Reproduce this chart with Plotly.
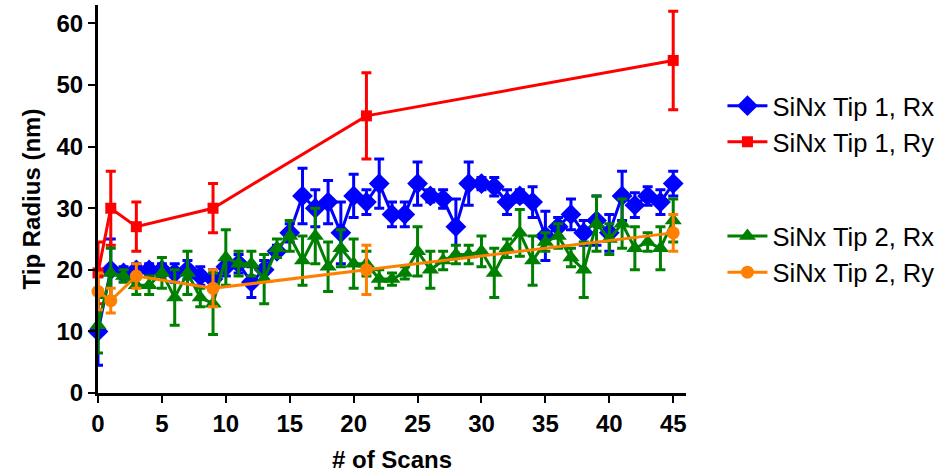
import plotly.graph_objects as go

# Tip 1 / Tip 2 radius versus number of scans
scans_all = list(range(46))

tip1_rx = [10, 20, 19.5, 20, 20, 20, 19.5, 20, 19, 18.5,
           20.5, 21, 18, 20, 23, 26, 32, 30, 31, 26,
           32, 31, 34, 29, 29, 34, 32, 31.5, 27, 34,
           34, 33.5, 31, 32, 31, 25.5, 27, 29, 26, 28,
           26, 32, 30.5, 32, 31, 34]
tip1_rx_err = [5.5, 5, 1, 1, 1, 1, 1.5, 1.5, 1.5, 1.5,
               1.5, 1.5, 2.5, 1.5, 1, 1.5, 4.5, 3, 3.5, 5,
               3.5, 2, 4, 2, 2, 3.5, 1, 1.5, 4.5, 3.5,
               1, 1.5, 2, 1, 2.5, 4, 1.5, 2.5, 2, 4,
               3, 4, 2, 1.5, 2, 2]

tip2_rx = [11, 19.5, 19, 17.5, 17.5, 19.5, 15.5, 19.5, 15.5, 14.5,
           22, 21, 21, 18.5, 23.5, 25.5, 21.5, 25.5, 20.5, 23.5,
           21, 21, 18.5, 18.5, 19.5, 23, 20, 21.5, 22.5, 22.5,
           23, 19.5, 23.5, 26, 21.5, 24.5, 25.5, 22, 20, 27.5,
           25, 27.5, 23.5, 24.5, 23.5, 28]
tip2_rx_err = [4.5, 4, 1, 1.5, 1.5, 2.5, 4.5, 3.5, 1.5, 5,
               4.5, 2, 2, 4, 1.5, 2.5, 4, 4.5, 4, 3,
               4, 2, 1.5, 1, 1, 4, 3, 1.5, 1.5, 1.5,
               2.5, 4, 1.5, 3.8, 4, 1.5, 2, 1.5, 4.5, 4.5,
               2.5, 4, 3.5, 1.5, 3.5, 3.5]

scans_ry = [0, 1, 3, 9, 21, 45]
tip1_ry = [19.5, 30, 27, 30, 45, 54]
tip1_ry_err = [5, 6, 4, 4, 7, 8]
tip2_ry = [16.5, 15, 19, 17, 20, 26]
tip2_ry_err = [3, 2, 2, 3, 4, 3]

series = [
    ("SiNx Tip 1, Rx", scans_all, tip1_rx, tip1_rx_err, "#0000FF", "diamond", 16, "g1"),
    ("SiNx Tip 1, Ry", scans_ry, tip1_ry, tip1_ry_err, "#FF0000", "square", 11, "g1"),
    ("SiNx Tip 2, Rx", scans_all, tip2_rx, tip2_rx_err, "#008000", "triangle-up", 15, "g2"),
    ("SiNx Tip 2, Ry", scans_ry, tip2_ry, tip2_ry_err, "#FF8000", "circle", 13, "g2"),
]

fig = go.Figure()
for name, xs, ys, errs, color, symbol, size, group in series:
    fig.add_trace(go.Scatter(
        x=xs, y=ys, name=name, mode="lines+markers",
        legendgroup=group,
        line=dict(color=color, width=3),
        marker=dict(symbol=symbol, size=size, color=color, line=dict(width=0)),
        error_y=dict(type="data", array=errs, visible=True,
                     color=color, thickness=3, width=5),
        cliponaxis=False,
    ))

font_family = "Liberation Sans, Arial, sans-serif"

fig.update_layout(
    width=945, height=476,
    margin=dict(l=98, r=259, t=5, b=83),
    plot_bgcolor="white", paper_bgcolor="white",
    font=dict(family=font_family, size=24, color="black"),
    legend=dict(
        x=1.062, xanchor="left", y=0.80, yanchor="top",
        xref="paper", yref="paper",
        traceorder="grouped", tracegroupgap=58,
        font=dict(size=25.5, color="black"),
        bgcolor="rgba(0,0,0,0)", itemwidth=40,
    ),
    xaxis=dict(
        range=[0, 46], tickmode="array", tickvals=list(range(0, 50, 5)),
        showgrid=False, zeroline=False,
        showline=True, linecolor="black", linewidth=3,
        ticks="outside", ticklen=7, tickwidth=2, tickcolor="black",
        tickfont=dict(size=24, weight="bold"),
        title=dict(text="<b># of Scans</b>", font=dict(size=24), standoff=16),
    ),
    yaxis=dict(
        range=[0, 63], tickmode="array", tickvals=list(range(0, 70, 10)),
        showgrid=False, zeroline=False,
        showline=True, linecolor="black", linewidth=3,
        ticks="outside", ticklen=7, tickwidth=2, tickcolor="black",
        tickfont=dict(size=24, weight="bold"),
        title=dict(text="<b>Tip Radius (nm)</b>", font=dict(size=24), standoff=10),
    ),
)

fig.write_html("out.html")
